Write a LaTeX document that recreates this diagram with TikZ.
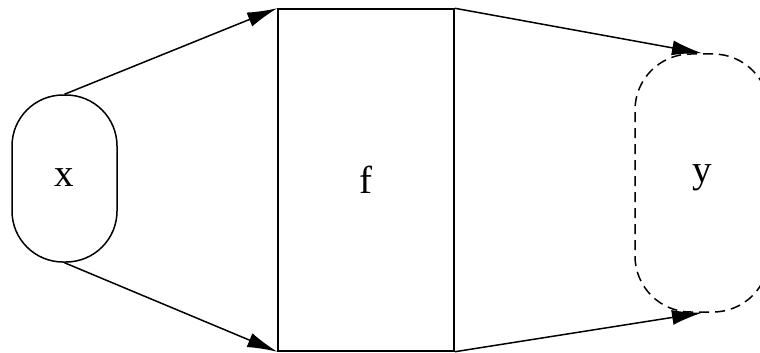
\documentclass[tikz,border=0pt]{standalone}
\usepackage{fontspec}
\setmainfont{Liberation Serif}
\usetikzlibrary{arrows.meta}
\begin{document}
\begin{tikzpicture}[x=1pt,y=-1pt,
  lbl/.style={font=\fontsize{39}{45}\selectfont, inner sep=0pt},
  conn/.style={line width=1.5pt, -{Latex[length=30pt,width=15pt]}},
  plain/.style={line width=1.5pt}]
\useasboundingbox (0,0) rectangle (760,353);
\clip (0,0) rectangle (760,353);
\fill[white] (0,0) rectangle (760,353);
% x node
\node[draw, plain, rounded corners=51pt, minimum width=105pt, minimum height=167pt, inner sep=0pt] (x) at (64.5,178.5) {};
\node[lbl] (xl) at (64,178) {x};
% f box
\node[draw, plain, minimum width=176pt, minimum height=342pt, inner sep=0pt] (f) at (366,180) {};
\node[lbl] (fl) at (366,180) {f};
% y node
\node[draw, plain, dashed, dash pattern=on 10pt off 6pt, rounded corners=56pt, minimum width=134pt, minimum height=258pt, inner sep=0pt] (y) at (702,183) {};
\node[lbl] (yl) at (702,178) {y};
% connectors
\draw[conn] (x.north) -- (f.north west);
\draw[conn] (x.south) -- (f.south west);
\draw[conn] (f.north east) -- (y.north);
\draw[conn] (f.south east) -- (y.south);
\end{tikzpicture}
\end{document}
